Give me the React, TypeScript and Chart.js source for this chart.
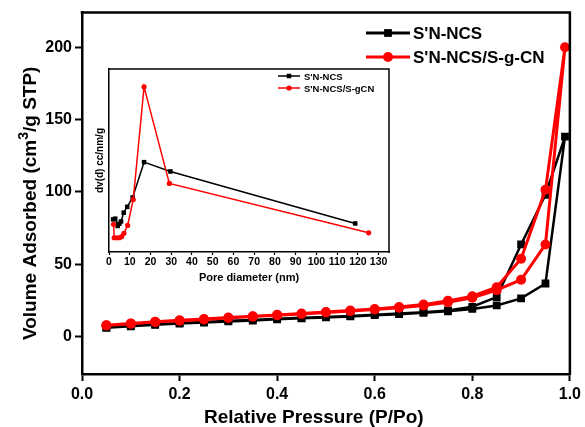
import React, { useEffect, useRef } from 'react';
import { Chart, registerables } from 'chart.js';

Chart.register(...registerables);

const FONT = "'Liberation Sans', Arial, Helvetica, sans-serif";

// ---------- main isotherm data ----------
const seriesNames = ["S'N-NCS", "S'N-NCS/S-g-CN"];
const seriesColors = ['#000000', '#ff0000'];

const pressureAds = [0.05, 0.1, 0.15, 0.2, 0.25, 0.3, 0.35, 0.4, 0.45, 0.5, 0.55, 0.6, 0.65, 0.7, 0.75, 0.8, 0.85, 0.9, 0.95, 0.99];
const pressureDes = [0.95, 0.9, 0.85, 0.8, 0.75, 0.7, 0.65, 0.6, 0.55, 0.5, 0.45, 0.4, 0.35, 0.3, 0.25, 0.2, 0.15, 0.1, 0.05];

const sncsAds = [6.0, 7.0, 8.0, 8.9, 9.6, 10.4, 11.0, 11.8, 12.5, 13.1, 13.8, 14.7, 15.4, 16.3, 17.4, 19.0, 21.4, 26.3, 36.6, 138.2];
const sncsDes = [98.0, 63.6, 27.2, 20.5, 18.0, 16.8, 15.8, 15.0, 14.2, 13.5, 12.9, 12.2, 11.4, 10.8, 10.0, 9.2, 8.3, 7.3, 6.3];

const sgcnAds = [7.6, 8.8, 9.9, 10.9, 11.7, 12.8, 13.7, 14.6, 15.5, 16.5, 17.5, 18.6, 19.8, 21.4, 23.6, 26.7, 32.0, 39.2, 63.6, 200.0];
const sgcnDes = [101.4, 53.7, 34.0, 27.8, 24.6, 22.0, 20.3, 19.0, 17.9, 16.9, 15.8, 14.9, 14.0, 13.1, 12.0, 11.1, 10.1, 9.0, 7.8];

const xTicks = [0, 0.2, 0.4, 0.6, 0.8, 1.0];
const yTicks = [0, 50, 100, 150, 200];

// ---------- inset pore size distribution ----------
const insetNames = ["S'N-NCS", "S'N-NCS/S-gCN"];
const poreSncs = [2.0, 3.0, 4.2, 5.0, 5.8, 7.1, 8.8, 11.4, 16.9, 29.6, 118.7];
const dvSncs = [17.8, 18.2, 14.2, 15.5, 16.7, 21.5, 24.7, 29.8, 49.1, 44.0, 15.6];
const poreSgcn = [2.2, 2.5, 3.7, 5.0, 6.1, 7.2, 9.0, 11.7, 16.9, 29.1, 125.2];
const dvSgcn = [15.1, 7.8, 7.8, 7.8, 8.4, 10.2, 14.5, 28.7, 90.2, 37.5, 10.5];
const poreTicks = [0, 10, 20, 30, 40, 50, 60, 70, 80, 90, 100, 110, 120, 130];

const toPts = (xs: number[], ys: number[]) => ys.map((y, i) => ({ x: xs[i], y }));

function drawMarker(ctx: CanvasRenderingContext2D, style: string, x: number, y: number, r: number, color: string) {
  ctx.fillStyle = color;
  ctx.beginPath();
  if (style === 'rect') {
    const s = r * Math.SQRT1_2;
    ctx.rect(x - s, y - s, 2 * s, 2 * s);
  } else {
    ctx.arc(x, y, r, 0, Math.PI * 2);
  }
  ctx.fill();
}

function makeLegend(id: string, cfg: { x0: number; x1: number; tx: number; y0: number; dy: number; size: number; lw: number }) {
  return {
    id,
    afterDraw(chart: any) {
      const ctx: CanvasRenderingContext2D = chart.ctx;
      ctx.save();
      chart.data.datasets.forEach((ds: any, i: number) => {
        const y = cfg.y0 + i * cfg.dy;
        ctx.strokeStyle = ds.borderColor;
        ctx.lineWidth = cfg.lw;
        ctx.beginPath();
        ctx.moveTo(cfg.x0, y);
        ctx.lineTo(cfg.x1, y);
        ctx.stroke();
        drawMarker(ctx, ds.pointStyle, (cfg.x0 + cfg.x1) / 2, y, ds.pointRadius, ds.borderColor);
        ctx.fillStyle = '#000';
        ctx.font = `bold ${cfg.size}px ${FONT}`;
        ctx.textAlign = 'left';
        ctx.textBaseline = 'middle';
        ctx.fillText(ds.label, cfg.tx, y + 1);
      });
      ctx.restore();
    },
  };
}

function makeFrame(id: string, lw: number) {
  return {
    id,
    afterDraw(chart: any) {
      const { ctx, chartArea } = chart;
      const { left, top, right, bottom } = chartArea;
      ctx.save();
      ctx.strokeStyle = '#000';
      ctx.lineWidth = lw;
      ctx.beginPath();
      ctx.moveTo(left - lw / 2, top);
      ctx.lineTo(right, top);
      ctx.lineTo(right, bottom + lw / 2);
      ctx.stroke();
      ctx.restore();
    },
  };
}

const mainTitles = {
  id: 'mainTitles',
  afterDraw(chart: any) {
    const ctx: CanvasRenderingContext2D = chart.ctx;
    const { left, right, top, bottom } = chart.chartArea;
    ctx.save();
    ctx.fillStyle = '#000';
    // x title
    ctx.font = `bold 19px ${FONT}`;
    ctx.textAlign = 'center';
    ctx.textBaseline = 'alphabetic';
    ctx.fillText('Relative Pressure (P/Po)', left + (right - left) * 0.475, 423);
    // y title with superscript
    const p1 = 'Volume Adsorbed (cm';
    const p2 = '3';
    const p3 = '/g STP)';
    const big = `bold 19px ${FONT}`;
    const small = `bold 14px ${FONT}`;
    ctx.font = big;
    const w1 = ctx.measureText(p1).width;
    const w3 = ctx.measureText(p3).width;
    ctx.font = small;
    const w2 = ctx.measureText(p2).width;
    const total = w1 + w2 + w3;
    ctx.translate(36, (top + bottom) / 2 + 10);
    ctx.rotate(-Math.PI / 2);
    ctx.textAlign = 'left';
    let x = -total / 2;
    ctx.font = big;
    ctx.fillText(p1, x, 0);
    x += w1;
    ctx.font = small;
    ctx.fillText(p2, x, -8);
    x += w2;
    ctx.font = big;
    ctx.fillText(p3, x, 0);
    ctx.restore();
  },
};

export default function App() {
  const mainRef = useRef<HTMLCanvasElement>(null);
  const insetRef = useRef<HTMLCanvasElement>(null);

  useEffect(() => {
    const tickFont = { family: FONT, size: 16, weight: 'bold' as const };
    const main = new Chart(mainRef.current as HTMLCanvasElement, {
      type: 'line',
      data: {
        datasets: [
          {
            label: seriesNames[0],
            data: [...toPts(pressureAds, sncsAds), ...toPts(pressureDes, sncsDes)],
            borderColor: seriesColors[0],
            backgroundColor: seriesColors[0],
            borderWidth: 2.5,
            pointStyle: 'rect',
            pointRadius: 5.5,
            pointBorderWidth: 0,
            order: 1,
          },
          {
            label: seriesNames[1],
            data: [...toPts(pressureAds, sgcnAds), ...toPts(pressureDes, sgcnDes)],
            borderColor: seriesColors[1],
            backgroundColor: seriesColors[1],
            borderWidth: 3,
            pointStyle: 'circle',
            pointRadius: 5,
            pointBorderWidth: 0,
            order: 0,
          },
        ],
      },
      options: {
        animation: false,
        responsive: false,
        maintainAspectRatio: false,
        layout: { padding: { top: 12, right: 13, left: 0, bottom: 0 } },
        plugins: { legend: { display: false }, tooltip: { enabled: false } },
        scales: {
          x: {
            type: 'linear',
            min: 0,
            max: 1,
            afterBuildTicks: (s: any) => { s.ticks = xTicks.map((v) => ({ value: v })); },
            afterFit: (s: any) => { s.height = 53; },
            ticks: { callback: (v: any) => Number(v).toFixed(1), font: tickFont, color: '#000', padding: 4, maxRotation: 0, autoSkip: false },
            grid: { drawOnChartArea: false, drawTicks: true, tickLength: 7, tickWidth: 2, color: '#000' },
            border: { width: 2.5, color: '#000' },
          },
          y: {
            type: 'linear',
            min: -26,
            max: 224,
            afterBuildTicks: (s: any) => { s.ticks = yTicks.map((v) => ({ value: v })); },
            afterFit: (s: any) => { s.width = 82; },
            ticks: { font: tickFont, color: '#000', padding: 3 },
            grid: { drawOnChartArea: false, drawTicks: true, tickLength: 7, tickWidth: 2, color: '#000' },
            border: { width: 2.5, color: '#000' },
          },
        },
      },
      plugins: [
        makeFrame('mainFrame', 2.5),
        mainTitles,
        makeLegend('mainLegend', { x0: 366, x1: 410, tx: 413, y0: 33, dy: 24, size: 17, lw: 3 }),
      ],
    });

    const insetTick = { family: FONT, size: 10.5, weight: 'bold' as const };
    const inset = new Chart(insetRef.current as HTMLCanvasElement, {
      type: 'line',
      data: {
        datasets: [
          {
            label: insetNames[0],
            data: toPts(poreSncs, dvSncs),
            borderColor: seriesColors[0],
            backgroundColor: seriesColors[0],
            borderWidth: 1.5,
            pointStyle: 'rect',
            pointRadius: 3.2,
            pointBorderWidth: 0,
            order: 1,
          },
          {
            label: insetNames[1],
            data: toPts(poreSgcn, dvSgcn),
            borderColor: seriesColors[1],
            backgroundColor: seriesColors[1],
            borderWidth: 1.5,
            pointStyle: 'circle',
            pointRadius: 2.6,
            pointBorderWidth: 0,
            order: 0,
          },
        ],
      },
      options: {
        animation: false,
        responsive: false,
        maintainAspectRatio: false,
        layout: { padding: { top: 7, right: 5, left: 0, bottom: 0 } },
        plugins: { legend: { display: false }, tooltip: { enabled: false } },
        scales: {
          x: {
            type: 'linear',
            min: 0,
            max: 135,
            afterBuildTicks: (s: any) => { s.ticks = poreTicks.map((v) => ({ value: v })); },
            afterFit: (s: any) => { s.height = 36; },
            ticks: { font: insetTick, color: '#000', padding: 1, maxRotation: 0, autoSkip: false },
            grid: { drawOnChartArea: false, drawTicks: true, tickLength: 3, tickWidth: 1.2, color: '#000' },
            border: { width: 1.5, color: '#000' },
            title: { display: true, text: 'Pore diameter (nm)', color: '#000', font: { family: FONT, size: 11, weight: 'bold' }, padding: { top: 0, bottom: 3 } },
          },
          y: {
            type: 'linear',
            min: 0,
            max: 100,
            afterFit: (s: any) => { s.width = 21; },
            ticks: { display: false },
            grid: { display: false },
            border: { width: 1.5, color: '#000' },
            title: { display: true, text: 'dv(d) cc/nm/g', color: '#000', font: { family: FONT, size: 10, weight: 'bold' }, padding: { top: 6, bottom: 0 } },
          },
        },
      },
      plugins: [
        makeFrame('insetFrame', 1.5),
        makeLegend('insetLegend', { x0: 190, x1: 212, tx: 216, y0: 14, dy: 12, size: 9.5, lw: 1.5 }),
      ],
    });

    return () => {
      main.destroy();
      inset.destroy();
    };
  }, []);

  return (
    <div style={{ position: 'fixed', left: 0, top: 0, width: 585, height: 427, background: '#fff' }}>
      <canvas ref={mainRef} width={585} height={427} style={{ position: 'absolute', left: 0, top: 0, width: 585, height: 427 }} />
      <canvas ref={insetRef} width={306} height={226} style={{ position: 'absolute', left: 88, top: 62, width: 306, height: 226 }} />
    </div>
  );
}
